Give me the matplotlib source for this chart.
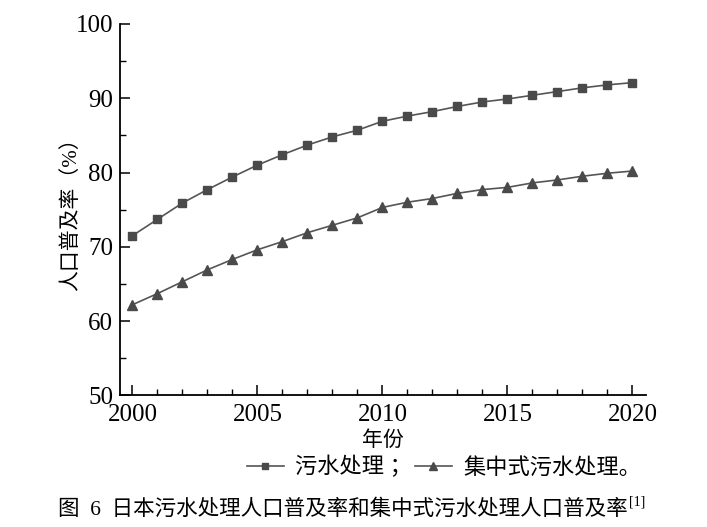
import matplotlib.pyplot as plt
from matplotlib.ticker import MultipleLocator
from matplotlib.lines import Line2D

plt.rcParams['font.family'] = ['Liberation Serif', 'Noto Sans CJK SC']

# data
years = list(range(2000, 2021))
sewage = [71.5, 73.7, 75.9, 77.7, 79.4, 81.0, 82.4, 83.7, 84.8, 85.7, 86.9,
          87.6, 88.2, 88.9, 89.5, 89.9, 90.4, 90.9, 91.4, 91.8, 92.1]
central = [62.2, 63.7, 65.3, 66.9, 68.3, 69.6, 70.7, 71.9, 72.9, 73.9, 75.3,
           76.0, 76.5, 77.2, 77.7, 78.0, 78.6, 79.0, 79.5, 79.9, 80.2]

label_a = '污水处理 ；'
label_b = '集中式污水处理。'
caption = '图  6  日本污水处理人口普及率和集中式污水处理人口普及率'
caption_ref = '[1]'

line_col = '#555555'
mark_col = '#4a4a4a'

fig = plt.figure(figsize=(7.07, 5.27), dpi=100)
ax = fig.add_axes([0.1697, 0.2499, 0.7436, 0.7046])

ax.plot(years, sewage, color=line_col, lw=1.2, marker='s', markersize=6,
        markerfacecolor=mark_col, markeredgecolor=mark_col)
ax.plot(years, central, color=line_col, lw=1.2, marker='^', markersize=7.5,
        markerfacecolor=mark_col, markeredgecolor=mark_col)

ax.set_xlim(1999.5, 2020.53)
ax.set_ylim(50, 100)
ax.xaxis.set_major_locator(MultipleLocator(5))
ax.xaxis.set_minor_locator(MultipleLocator(1))
ax.yaxis.set_major_locator(MultipleLocator(10))
ax.yaxis.set_minor_locator(MultipleLocator(5))
ax.tick_params(which='major', direction='in', length=7, width=1.1, labelsize=18)
ax.tick_params(which='minor', direction='in', length=4, width=1.0)
ax.tick_params(axis='x', pad=6)
ax.tick_params(axis='y', pad=5)
ax.spines['top'].set_visible(False)
ax.spines['right'].set_visible(False)
ax.spines['left'].set_linewidth(1.3)
ax.spines['bottom'].set_linewidth(1.3)

ax.set_xlabel('年份', fontsize=15, labelpad=4)
ax.set_ylabel('人口普及率（%）', fontsize=15, labelpad=-4)

handles = [
    Line2D([], [], color=line_col, lw=1.2, marker='s', markersize=5,
           markerfacecolor=mark_col, markeredgecolor=mark_col),
    Line2D([], [], color=line_col, lw=1.2, marker='^', markersize=6,
           markerfacecolor=mark_col, markeredgecolor=mark_col),
]
fig.legend(handles, [label_a, label_b], ncol=2, frameon=False,
           loc='center', bbox_to_anchor=(0.628, 0.113), fontsize=16,
           handlelength=1.7, handletextpad=0.5, columnspacing=0.1)

fig.text(0.888, 0.032, caption, ha='right', va='center', fontsize=15.5)
fig.text(0.889, 0.048, caption_ref, ha='left', va='center', fontsize=10)

fig.savefig('out.png', dpi=100)
